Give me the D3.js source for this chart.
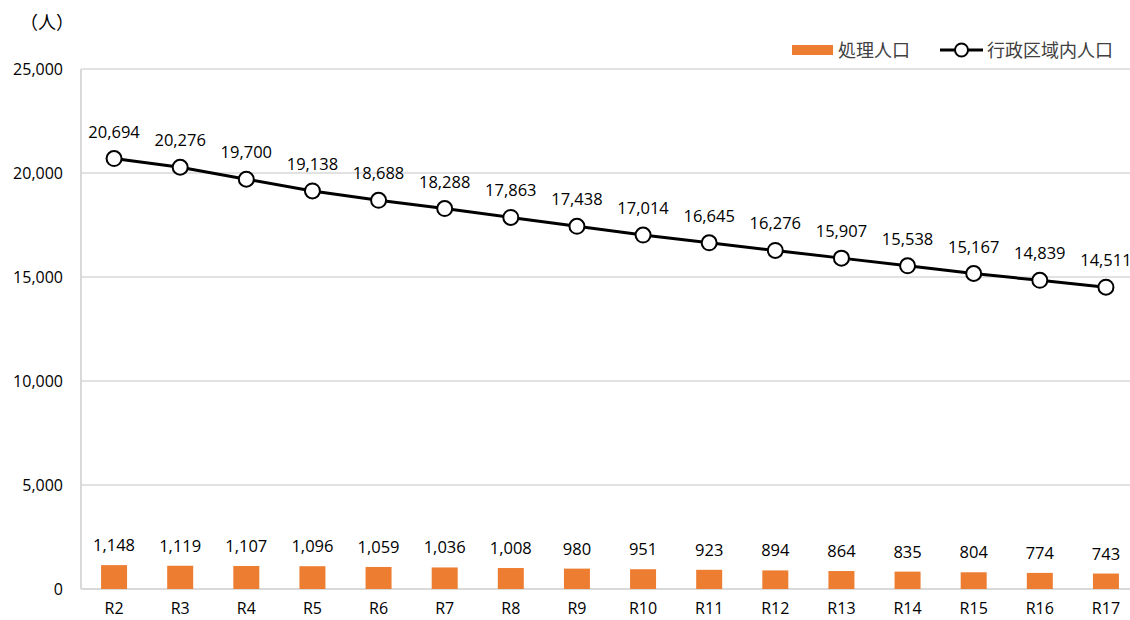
<!DOCTYPE html>
<html>
<head>
<meta charset="utf-8">
<script src="https://d3js.org/d3.v7.min.js"></script>
<style>
  body { margin: 0; background: #fff; }
  svg { display: block; font-family: "Open Sans", "Noto Sans CJK JP", sans-serif; }
  .jp { font-family: "Noto Sans CJK JP", sans-serif; }
</style>
</head>
<body>
<svg id="chart"></svg>
<script>
const categories = ['R2', 'R3', 'R4', 'R5', 'R6', 'R7', 'R8', 'R9', 'R10', 'R11', 'R12', 'R13', 'R14', 'R15', 'R16', 'R17'];
const treated = [1148, 1119, 1107, 1096, 1059, 1036, 1008, 980, 951, 923, 894, 864, 835, 804, 774, 743];
const admin = [20694, 20276, 19700, 19138, 18688, 18288, 17863, 17438, 17014, 16645, 16276, 15907, 15538, 15167, 14839, 14511];
const yTicks = [0, 5000, 10000, 15000, 20000, 25000];
const seriesNames = ['処理人口', '行政区域内人口'];

const width = 1130, height = 620;
const margin = { top: 69, right: -9, bottom: 31, left: 81 };
const innerW = width - margin.left - margin.right;
const innerH = height - margin.top - margin.bottom;

const svg = d3.select('#chart').attr('width', width).attr('height', height);
const chart = svg.append('g').attr('transform', `translate(${margin.left}, ${margin.top})`);

const x = d3.scaleBand().domain(categories).range([0, innerW]).paddingInner(0.6).paddingOuter(0.3);
const xc = d => x(d) + x.bandwidth() / 2;
const y = d3.scaleLinear().domain([0, 25000]).range([innerH, 0]);
const fmt = d3.format(',');

// gridlines
chart.append('g')
    .selectAll('line')
    .data(yTicks.slice(1))
    .join('line')
    .attr('x1', 0).attr('x2', innerW)
    .attr('y1', d => y(d)).attr('y2', d => y(d))
    .attr('stroke', '#d9d9d9').attr('stroke-width', 1.3);

// y axis labels
const yAxis = d3.axisLeft(y).tickValues(yTicks).tickFormat(fmt).tickSize(0).tickPadding(18);
chart.append('g').call(yAxis)
    .call(g => g.select('.domain').remove())
    .call(g => g.selectAll('text').attr('font-size', 16).attr('font-family', 'Open Sans').attr('fill', '#000'));

// axis lines
chart.append('line').attr('x1', 0).attr('x2', 0).attr('y1', 0).attr('y2', innerH)
    .attr('stroke', '#d9d9d9').attr('stroke-width', 2);
chart.append('line').attr('x1', 0).attr('x2', innerW).attr('y1', innerH).attr('y2', innerH)
    .attr('stroke', '#d9d9d9').attr('stroke-width', 2);

// x axis labels
const xAxis = d3.axisBottom(x).tickSize(0).tickPadding(14);
chart.append('g').attr('transform', `translate(0, ${innerH})`).call(xAxis)
    .call(g => g.select('.domain').remove())
    .call(g => g.selectAll('text').attr('font-size', 16).attr('font-family', 'Open Sans').attr('fill', '#000'));

// bars
const barW = 26;
chart.selectAll('rect.bar')
    .data(treated)
    .join('rect')
    .attr('class', 'bar')
    .attr('x', (d, i) => xc(categories[i]) - barW / 2)
    .attr('y', d => y(d))
    .attr('width', barW)
    .attr('height', d => innerH - y(d))
    .attr('fill', '#ed7d31');

chart.selectAll('text.barlabel')
    .data(treated)
    .join('text')
    .attr('class', 'barlabel')
    .attr('x', (d, i) => xc(categories[i]))
    .attr('y', d => y(d) - 14)
    .attr('text-anchor', 'middle')
    .attr('font-size', 16.5)
    .text(d => fmt(d));

// line
const line = d3.line().x((d, i) => xc(categories[i])).y(d => y(d));
chart.append('path')
    .datum(admin)
    .attr('d', line)
    .attr('fill', 'none')
    .attr('stroke', '#000')
    .attr('stroke-width', 3);

chart.selectAll('circle.pt')
    .data(admin)
    .join('circle')
    .attr('class', 'pt')
    .attr('cx', (d, i) => xc(categories[i]))
    .attr('cy', d => y(d))
    .attr('r', 7.5)
    .attr('fill', '#fff')
    .attr('stroke', '#000')
    .attr('stroke-width', 2);

chart.selectAll('text.ptlabel')
    .data(admin)
    .join('text')
    .attr('class', 'ptlabel')
    .attr('x', (d, i) => xc(categories[i]))
    .attr('y', d => y(d) - 21)
    .attr('text-anchor', 'middle')
    .attr('font-size', 16.5)
    .text(d => fmt(d));

// unit label
svg.append('text').attr('class', 'jp').attr('x', 20).attr('y', 29).attr('font-size', 18).text('（人）');

// legend
const legend = svg.append('g').attr('class', 'jp').attr('fill', '#404040').attr('font-size', 18);
legend.append('rect').attr('x', 792).attr('y', 45).attr('width', 41).attr('height', 10).attr('fill', '#ed7d31');
legend.append('text').attr('x', 838).attr('y', 57).text(seriesNames[0]);
legend.append('line').attr('x1', 940).attr('x2', 983).attr('y1', 50).attr('y2', 50)
    .attr('stroke', '#000').attr('stroke-width', 3);
legend.append('circle').attr('cx', 961.5).attr('cy', 50).attr('r', 6.5)
    .attr('fill', '#fff').attr('stroke', '#000').attr('stroke-width', 2);
legend.append('text').attr('x', 987).attr('y', 57).text(seriesNames[1]);
</script>
</body>
</html>
